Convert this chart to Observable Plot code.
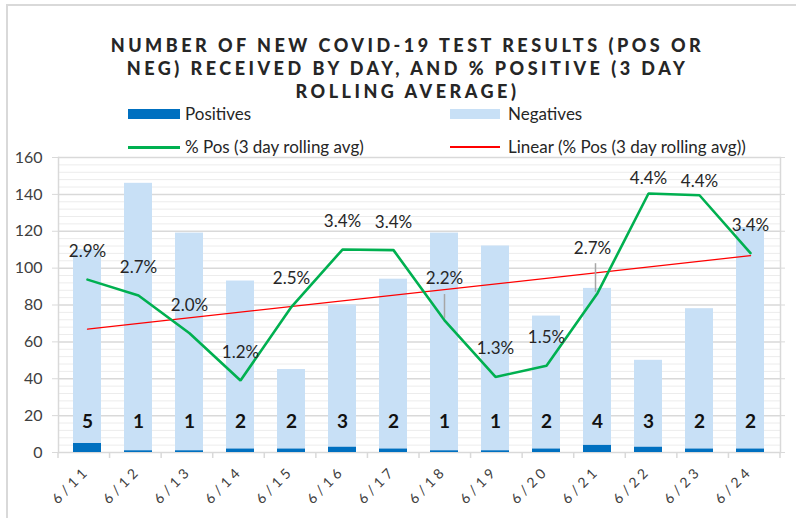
<!DOCTYPE html>
<html><head><meta charset="utf-8">
<script src="https://cdn.jsdelivr.net/npm/d3@7"></script>
<script src="https://cdn.jsdelivr.net/npm/@observablehq/plot@0.6"></script>
<style>
body{margin:0;background:#fff;font-family:Lato,sans-serif;}
#wrap{position:relative;width:796px;height:518px;overflow:hidden;}
#border{position:absolute;left:6px;top:4px;width:830px;height:560px;border:2px solid #d9d9d9;box-sizing:border-box;}
#title{position:absolute;left:0;width:815px;top:34px;text-align:center;font-family:Lato,sans-serif;font-weight:900;font-size:18px;letter-spacing:3.5px;line-height:23px;color:#262626;}
.leg{position:absolute;font-family:Lato,sans-serif;font-size:17px;color:#262626;line-height:18px;}
.sw{position:absolute;}
#chart{position:absolute;left:0;top:140px;}
g[aria-label="x-axis tick label"] text{letter-spacing:4px;}
</style></head>
<body>
<div id="wrap">
  <div id="border"></div>
  <div id="title">NUMBER OF NEW COVID-19 TEST RESULTS (POS OR<br>NEG) RECEIVED BY DAY, AND % POSITIVE (3 DAY<br>ROLLING AVERAGE)</div>
  <div class="sw" style="left:128px;top:109px;width:52px;height:10px;background:#0070C0"></div>
  <div class="leg" style="left:185px;top:105px">Positives</div>
  <div class="sw" style="left:450px;top:109px;width:50px;height:10px;background:#C8E0F6"></div>
  <div class="leg" style="left:508px;top:105px">Negatives</div>
  <div class="sw" style="left:128px;top:146px;width:52px;height:3px;background:#00B050"></div>
  <div class="leg" style="left:185px;top:138px">% Pos (3 day rolling avg)</div>
  <div class="sw" style="left:450px;top:146px;width:50px;height:2px;background:#FF0000"></div>
  <div class="leg" style="left:508px;top:138px">Linear (% Pos (3 day rolling avg))</div>
  <div id="chart"></div>
</div>
<script>
// ---- data ----
const days = ["6/11","6/12","6/13","6/14","6/15","6/16","6/17","6/18","6/19","6/20","6/21","6/22","6/23","6/24"];
const positives = [5,1,1,2,2,3,2,1,1,2,4,3,2,2];
const negatives = [105,145,118,91,43,77,92,118,111,72,85,47,76,120];
const pctPos = [2.93,2.66,2.02,1.22,2.47,3.44,3.43,2.24,1.28,1.47,2.70,4.39,4.36,3.38];
const yTicks = [0,20,40,60,80,100,120,140,160];

// ---- styling config ----
const secondaryMax = 5; // hidden secondary axis 0–5% aligned with 0–160
const yMax = 160;
const toLeft = p => p * yMax / secondaryMax;
const labelNudge = {"6/18": {dx: 0, dy: -42}, "6/21": {dx: -5, dy: -45}, "6/22": {dx: 0, dy: -15}, "6/23": {dx: 0, dy: -14}};
const leaders = [{day: "6/18", dx: 0, from: 1, to: 14}, {day: "6/21", dx: -2, from: 0.5, to: 16}];

const rows = days.flatMap((d, i) => [
  {day: d, type: "Positives", value: positives[i]},
  {day: d, type: "Negatives", value: negatives[i]}
]);
const pts = days.map((d, i) => ({day: d, i, pct: pctPos[i], y: toLeft(pctPos[i])}));

// linear trendline (least squares on % values)
const n = pts.length;
const mx = d3.mean(pts, d => d.i), my = d3.mean(pts, d => d.pct);
const slope = d3.sum(pts, d => (d.i - mx) * (d.pct - my)) / d3.sum(pts, d => (d.i - mx) ** 2);
const icpt = my - slope * mx;
const trend = [0, n - 1].map(i => ({day: days[i], y: toLeft(icpt + slope * i)}));

const minor = d3.range(0, yMax + 1, 4).filter(v => v % 20 !== 0);

const boundaryTicks = (index, scales, values, dims) => {
  const {width, height, marginLeft, marginRight, marginBottom} = dims;
  const slot = (width - marginLeft - marginRight) / days.length;
  const g = d3.create("svg:g").attr("stroke", "#d9d9d9").attr("stroke-width", 1.5);
  const y0 = height - marginBottom;
  for (let i = 0; i <= days.length; i++) {
    const x = marginLeft + i * slot;
    g.append("line").attr("x1", x).attr("x2", x).attr("y1", y0).attr("y2", y0 + 6);
  }
  return g.node();
};

const marks = [
  Plot.ruleY(minor, {stroke: "#ececec", strokeWidth: 1}),
  Plot.ruleY(yTicks, {stroke: "#d9d9d9", strokeWidth: 1.5}),
  Plot.frame({anchor: "left", stroke: "#d9d9d9", strokeWidth: 1.5}),
  Plot.frame({anchor: "right", stroke: "#d9d9d9", strokeWidth: 1.5}),
  Plot.axisY({ticks: yTicks, tickSize: 6, tickPadding: 10, fontSize: 16, label: null, stroke: "#d9d9d9"}),
  Plot.axisY({anchor: "right", ticks: yTicks, tickSize: 4, tickFormat: () => "", label: null, stroke: "#d9d9d9"}),
  Plot.axisX({tickSize: 0, tickPadding: 16, tickRotate: -45, fontSize: 14, label: null}),
  boundaryTicks,
  Plot.barY(rows, Plot.stackY({order: ["Positives", "Negatives"]}, {
    x: "day", y: "value", z: "type",
    fill: d => d.type === "Positives" ? "#0070C0" : "#C8E0F6"
  })),
  Plot.text(days, {x: d => d, frameAnchor: "bottom", dy: -25, text: (d, i) => String(positives[i]),
    fontSize: 19, fontWeight: "bold", fill: "#111"}),
  Plot.line(trend, {x: "day", y: "y", stroke: "#FF0000", strokeWidth: 1.3}),
  Plot.line(pts, {x: "day", y: "y", stroke: "#00B050", strokeWidth: 2.6, strokeLinejoin: "miter"}),
  Plot.text(pts.filter(d => !labelNudge[d.day]), {x: "day", y: "y", dy: -28, text: d => d.pct.toFixed(1) + "%", fontSize: 17, fill: "#262626"}),
  ...Object.entries(labelNudge).map(([day, o]) =>
    Plot.text(pts.filter(d => d.day === day), {x: "day", y: "y", dx: o.dx, dy: o.dy, text: d => d.pct.toFixed(1) + "%", fontSize: 17, fill: "#262626"})),
  ...leaders.map(L => Plot.ruleX(pts.filter(d => d.day === L.day), {x: "day", y1: d => d.y + L.from, y2: d => d.y + L.to, dx: L.dx, stroke: "#a6a6a6", strokeWidth: 1.5}))
];

const chart = Plot.plot({
  width: 796, height: 378,
  marginTop: 17, marginBottom: 66, marginLeft: 58, marginRight: 16,
  style: {fontFamily: "Lato, sans-serif", color: "#404040", background: "transparent", overflow: "visible"},
  x: {domain: days, paddingInner: 0.444, paddingOuter: 0.222},
  y: {domain: [0, yMax]},
  color: {type: "identity"},
  marks
});
document.getElementById("chart").appendChild(chart);
</script>
</body></html>
